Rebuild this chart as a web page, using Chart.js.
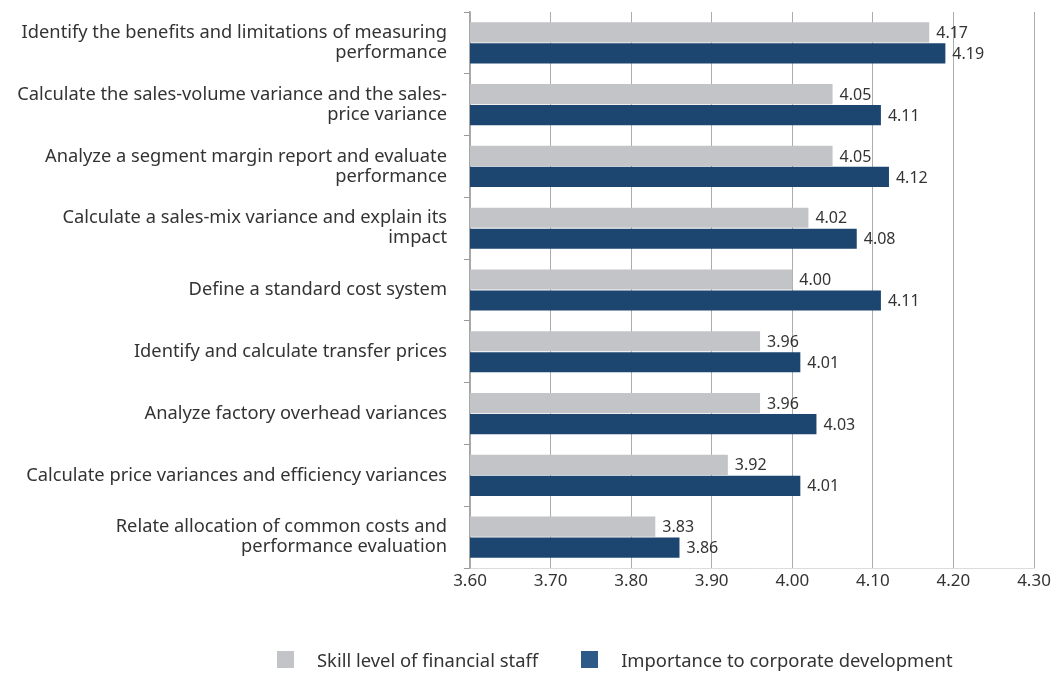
<!DOCTYPE html>
<html>
<head>
<meta charset="utf-8">
<script src="https://cdn.jsdelivr.net/npm/chart.js@4"></script>
<style>
  body { margin: 0; background: #fff; }
  #wrap { position: relative; width: 1063px; height: 674px; }
  #legend {
    position: absolute; left: 277px; top: 647px;
    display: flex; align-items: center; white-space: nowrap;
    font: 18.4px "Noto Sans", sans-serif; color: #333;
  }
  .item { display: flex; align-items: center; margin-right: 43px; }
  .box { width: 17px; height: 17px; margin-right: 23px; }
</style>
</head>
<body>
<div id="wrap">
  <canvas id="grafico" width="1063" height="674"></canvas>
  <div id="legend"></div>
</div>
<script>
const categories = [
  ["Identify the benefits and limitations of measuring", "performance"],
  ["Calculate the sales-volume variance and the sales-", "price variance"],
  ["Analyze a segment margin report and evaluate", "performance"],
  ["Calculate a sales-mix variance and explain its", "impact"],
  "Define a standard cost system",
  "Identify and calculate transfer prices",
  "Analyze factory overhead variances",
  "Calculate price variances and efficiency variances",
  ["Relate allocation of common costs and", "performance evaluation"]
];
const skillLevel = [4.17, 4.05, 4.05, 4.02, 4.00, 3.96, 3.96, 3.92, 3.83];
const importance = [4.19, 4.11, 4.12, 4.08, 4.11, 4.01, 4.03, 4.01, 3.86];
const seriesNames = ["Skill level of financial staff", "Importance to corporate development"];

const font = "'Noto Sans', sans-serif";

// value printed just past the end of each bar
const valueLabels = {
  id: "valueLabels",
  afterDatasetsDraw(chart) {
    const ctx = chart.ctx;
    ctx.save();
    ctx.font = "16px " + font;
    ctx.fillStyle = "#333";
    ctx.textBaseline = "middle";
    chart.data.datasets.forEach((ds, i) => {
      chart.getDatasetMeta(i).data.forEach((bar, j) => {
        ctx.fillText(ds.data[j].toFixed(2), bar.x + 7, bar.y + 1);
      });
    });
    ctx.restore();
  }
};

const grafico = new Chart(document.getElementById("grafico"), {
  type: "bar",
  data: {
    labels: categories,
    datasets: [
      { label: seriesNames[0], data: skillLevel, backgroundColor: "#c3c4c7" },
      { label: seriesNames[1], data: importance, backgroundColor: "#1c456f" }
    ]
  },
  options: {
    indexAxis: "y",
    responsive: false,
    animation: false,
    categoryPercentage: 0.68,
    barPercentage: 0.96,
    layout: { padding: { top: 12, right: 29, bottom: 76, left: 0 } },
    plugins: {
      legend: { display: false },
      tooltip: { enabled: false }
    },
    scales: {
      x: {
        min: 3.6,
        max: 4.3,
        z: 1,
        afterFit(scale) { scale.height = 30; },
        ticks: {
          stepSize: 0.1,
          padding: 3,
          color: "#333",
          font: { family: font, size: 17 },
          callback: (v) => Number(v).toFixed(2)
        },
        grid: { color: "rgba(70,70,70,0.45)", drawTicks: false },
        border: { display: true, color: "#dcdcdc" }
      },
      y: {
        afterFit(scale) {
          scale.width = 470;
          scale.paddingTop = 0;
          scale.paddingBottom = 0;
        },
        ticks: {
          padding: 17,
          color: "#333",
          font: { family: font, size: 18.3, lineHeight: 1.1 }
        },
        grid: { drawOnChartArea: false, tickLength: 6, color: "#999" },
        border: { display: true, color: "#a6a6a6", width: 1.5 }
      }
    }
  },
  plugins: [valueLabels]
});

// legend as plain html under the chart
const legendColors = ["#c3c4c7", "#2e5a88"];
document.getElementById("legend").innerHTML = seriesNames.map((name, i) =>
  `<div class="item"><span class="box" style="background:${legendColors[i]}"></span>${name}</div>`
).join("");
</script>
</body>
</html>
